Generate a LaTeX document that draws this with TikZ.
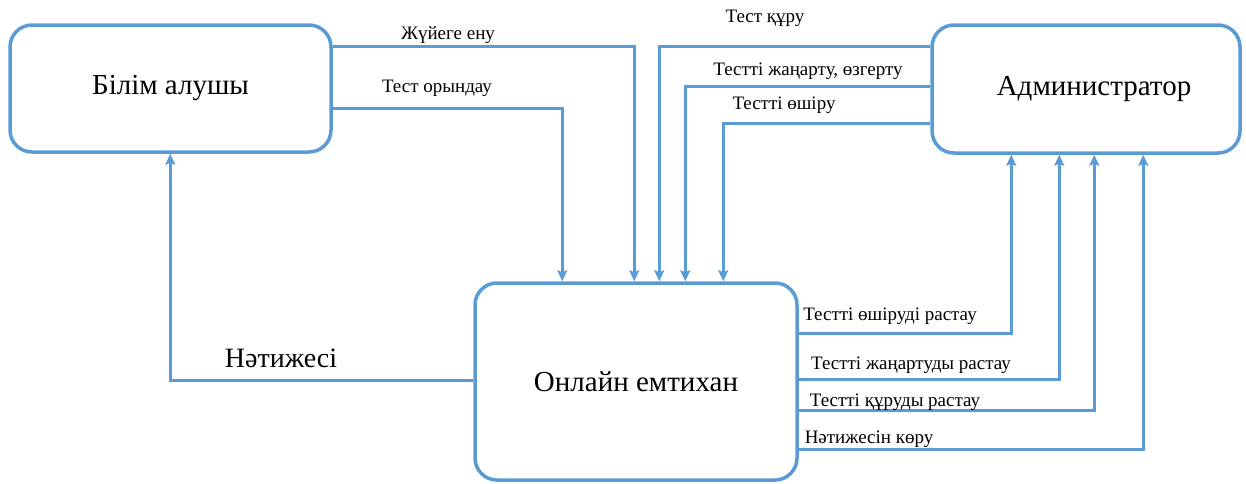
\documentclass[tikz,border=0pt]{standalone}
\usepackage{fontspec}
\setmainfont{Liberation Serif}
\usetikzlibrary{arrows.meta}
\definecolor{lineblue}{HTML}{5B9BD5}
\tikzset{
  box/.style={draw=lineblue, line width=3.5pt, rounded corners=22pt, inner sep=0pt, font=\fontsize{29}{33}\selectfont},
  arr/.style={draw=lineblue, line width=3pt, -{Stealth[length=11pt,width=10pt,inset=2pt]}},
  lab/.style={inner sep=0pt, font=\fontsize{19}{22}\selectfont},
}
\begin{document}
\begin{tikzpicture}[x=1pt,y=-1pt]
\useasboundingbox (0,0) rectangle (1246,483);
\node[box, minimum width=321pt, minimum height=127pt] (bl) at (170.5,88.5) {Білім алушы};
\node[box, minimum width=308pt, minimum height=128pt] (ad) at (1086,89) {\hspace*{16pt}Администратор};
\node[box, minimum width=322pt, minimum height=197pt] (on) at (636,381.5) {Онлайн емтихан};

\draw[arr] ([yshift=-23pt]bl.north east) -| ([xshift=161pt]on.north west);
\draw[arr] ([yshift=-85pt]bl.north east) -| ([xshift=89pt]on.north west);
\draw[arr] ([yshift=-23pt]ad.north west) -| ([xshift=186pt]on.north west);
\draw[arr] ([yshift=-63pt]ad.north west) -| ([xshift=212pt]on.north west);
\draw[arr] ([yshift=-100pt]ad.north west) -| ([xshift=250pt]on.north west);
\draw[arr] ([yshift=-52pt]on.north east) -| ([xshift=81pt]ad.south west);
\draw[arr] ([yshift=-98pt]on.north east) -| ([xshift=129pt]ad.south west);
\draw[arr] ([yshift=-129pt]on.north east) -| ([xshift=164pt]ad.south west);
\draw[arr] ([yshift=-168pt]on.north east) -| ([xshift=213pt]ad.south west);
\draw[arr] ([yshift=-99pt]on.north west) -| ([xshift=162pt]bl.south west);

\node[lab] (l1) at (448,35) {Жүйеге ену};
\node[lab] (l2) at (437,88) {Тест орындау};
\node[lab] (l3) at (765,18) {Тест құру};
\node[lab] (l4) at (808,71) {Тестті жаңарту, өзгерту};
\node[lab] (l5) at (784,105) {Тестті өшіру};
\node[lab] (l6) at (890,316) {Тестті өшіруді растау};
\node[lab] (l7) at (911,365) {Тестті жаңартуды растау};
\node[lab] (l8) at (895,402) {Тестті құруды растау};
\node[lab] (l9) at (869,439) {Нәтижесін көру};
\node[lab, font=\fontsize{28}{32}\selectfont] (l10) at (281,358) {Нәтижесі};
\end{tikzpicture}
\end{document}
